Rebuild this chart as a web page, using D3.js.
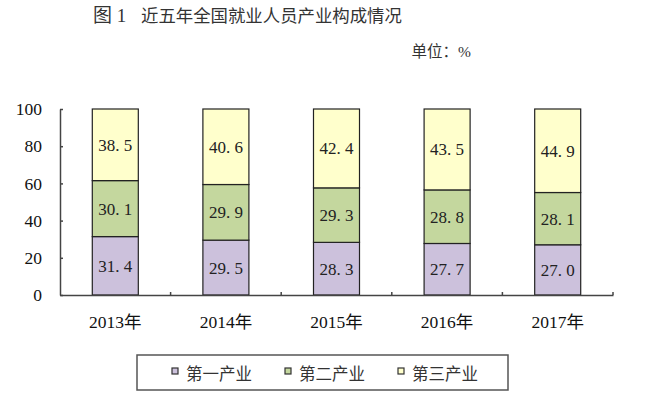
<!DOCTYPE html>
<html><head><meta charset="utf-8">
<script src="https://cdn.jsdelivr.net/npm/d3@7"></script>
<style>body{margin:0;background:#fff;} svg{display:block;}</style>
</head><body>
<svg id="c" width="650" height="395"></svg>
<script>
const years = ["2013年","2014年","2015年","2016年","2017年"];
const seriesNames = ["第一产业","第二产业","第三产业"];
const primary = [31.4, 29.5, 28.3, 27.7, 27.0];
const secondary = [30.1, 29.9, 29.3, 28.8, 28.1];
const tertiary = [38.5, 40.6, 42.4, 43.5, 44.9];
const yTicks = [0, 20, 40, 60, 80, 100];
const colors = ["#ccc1dc", "#c4d79e", "#ffffcc"];

const font = "'Liberation Serif','DejaVu Serif','Noto Sans CJK SC',serif";
const svg = d3.select("#c");
const plotLeft = 60, plotRight = 613, plotTop = 109, plotBottom = 295;

const rows = years.map((yr, i) => ({year: yr, s0: primary[i], s1: secondary[i], s2: tertiary[i]}));
const stack = d3.stack().keys(["s0","s1","s2"])(rows);

const x = d3.scaleBand().domain(years).range([plotLeft, plotRight]).paddingInner(0.584).paddingOuter(0.292);
const y = d3.scaleLinear().domain([0, 100]).range([plotBottom, plotTop]);

// title
svg.append("text").attr("x", 93).attr("y", 22).attr("font-family", font).attr("font-size", 19).attr("fill", "#333")
  .text("图 1");
svg.append("text").attr("x", 141).attr("y", 22).attr("font-family", font).attr("font-size", 17.4).attr("fill", "#333")
  .text("近五年全国就业人员产业构成情况");
svg.append("text").attr("x", 471).attr("y", 57).attr("text-anchor", "end").attr("font-family", font).attr("font-size", 15.5).attr("fill", "#333")
  .text("单位：%");

// bars
const g = svg.append("g");
stack.forEach((layer, li) => {
  g.selectAll(null).data(layer).enter().append("rect")
    .attr("x", d => x(d.data.year))
    .attr("width", x.bandwidth())
    .attr("y", d => y(d[1]))
    .attr("height", d => y(d[0]) - y(d[1]))
    .attr("fill", colors[li])
    .attr("stroke", "#222").attr("stroke-width", 1.2);
  g.selectAll(null).data(layer).enter().append("text")
    .attr("x", d => x(d.data.year) + x.bandwidth() / 2)
    .attr("y", d => (y(d[0]) + y(d[1])) / 2 + 6)
    .attr("text-anchor", "middle").attr("font-family", font).attr("font-size", 17).attr("fill", "#222")
    .text(d => (d[1] - d[0]).toFixed(1).replace(".", ". "));
});

// y axis
const ya = svg.append("g").attr("transform", `translate(${plotLeft},0)`)
  .call(d3.axisLeft(y).tickValues(yTicks).tickSizeInner(-3).tickSizeOuter(0).tickPadding(18));
ya.select(".domain").attr("stroke", "#444").attr("stroke-width", 1.5);
ya.selectAll(".tick line").attr("stroke", "#444").attr("stroke-width", 1.5);
ya.selectAll("text").attr("font-family", font).attr("font-size", 17.5).attr("fill", "#111");

// x axis
const xa = svg.append("g").attr("transform", `translate(0,${plotBottom})`)
  .call(d3.axisBottom(x).tickSize(0).tickPadding(21));
xa.select(".domain").attr("stroke", "#444").attr("stroke-width", 1.5);
xa.selectAll("text").attr("font-family", font).attr("font-size", 17.5).attr("fill", "#111");
// boundary ticks between categories
const step = x.step();
const bounds = d3.range(1, years.length + 1).map(i => plotLeft + i * step);
svg.append("g").selectAll("line").data(bounds).enter().append("line")
  .attr("x1", d => d).attr("x2", d => d).attr("y1", plotBottom).attr("y2", plotBottom - 3)
  .attr("stroke", "#444").attr("stroke-width", 1.5);

// legend
svg.append("rect").attr("x", 137).attr("y", 355).attr("width", 371).attr("height", 35)
  .attr("fill", "#fff").attr("stroke", "#555").attr("stroke-width", 1.5);
const legX = [172, 285, 398];
seriesNames.forEach((n, i) => {
  svg.append("rect").attr("x", legX[i]).attr("y", 368).attr("width", 6).attr("height", 6)
    .attr("fill", colors[i]).attr("stroke", "#333").attr("stroke-width", 1.2);
  svg.append("text").attr("x", legX[i] + 14).attr("y", 380).attr("font-family", font).attr("font-size", 16.5).attr("fill", "#333")
    .text(n);
});
</script>
</body></html>
